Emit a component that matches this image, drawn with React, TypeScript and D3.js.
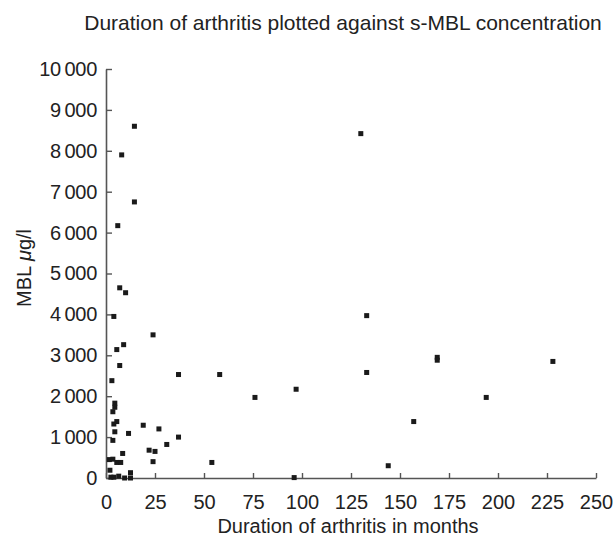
import React, { useRef, useEffect } from 'react';
import * as d3 from 'd3';

const width = 614;
const height = 540;
const margin = { left: 106, right: 18, top: 69, bottom: 62 };

// months, MBL µg/l
const durations = [
  130, 133, 169, 169, 228, 133, 194, 157, 144,
  24, 37, 58, 97, 76, 27, 37, 31, 25, 22, 24, 54, 96,
  14.5, 8, 14.5, 6,
  7, 10, 4, 9, 5.5, 7, 3,
  4.5, 4.5, 3.5, 5.5, 4, 4.5, 11.5, 19, 3.5, 8.5,
  1.7, 3.5, 5.5, 7.5, 2, 2.5, 4, 6.5, 9.5, 12.5, 12.5,
];
const mbl = [
  8420, 3970, 2950, 2880, 2850, 2580, 1970, 1380, 300,
  3500, 2530, 2530, 2170, 1970, 1200, 1000, 820, 650, 680, 400, 380, 10,
  8600, 7900, 6750, 6170,
  4650, 4530, 3950, 3260, 3140, 2750, 2380,
  1830, 1730, 1620, 1380, 1320, 1130, 1090, 1290, 920, 600,
  450, 460, 380, 380, 190, 20, 20, 45, 0, 130, 0,
];

const xTicks = [0, 25, 50, 75, 100, 125, 150, 175, 200, 225, 250];
const yTicks = [0, 1000, 2000, 3000, 4000, 5000, 6000, 7000, 8000, 9000, 10000];

const title = 'Duration of arthritis plotted against s-MBL concentration';
const xTitle = 'Duration of arthritis in months';

const fontFamily = 'Liberation Sans, Arial, Helvetica, sans-serif';

const App = () => {
  const ref = useRef<SVGSVGElement>(null);

  useEffect(() => {
    const svg = d3.select(ref.current);
    svg.selectAll('*').remove();

    const x = d3.scaleLinear().domain([0, 250]).range([margin.left, width - margin.right]);
    const y = d3.scaleLinear().domain([0, 10000]).range([height - margin.bottom, margin.top]);

    const fmt = (v: number) => d3.format(',')(v).replace(',', '\u2009');

    // x axis
    const xAxis = svg.append('g')
      .attr('transform', `translate(0, ${y(0)})`)
      .call(d3.axisBottom(x).tickValues(xTicks).tickSizeInner(-5).tickSizeOuter(0).tickPadding(17));
    xAxis.select('.domain').attr('stroke', '#555').attr('stroke-width', 1.6);
    xAxis.selectAll('.tick line').attr('stroke', '#555').attr('stroke-width', 1.4);
    xAxis.selectAll('.tick text')
      .attr('fill', '#222').style('font-size', '20px').style('font-family', fontFamily);

    // y axis
    const yAxis = svg.append('g')
      .attr('transform', `translate(${x(0)}, 0)`)
      .call(d3.axisLeft(y).tickValues(yTicks).tickFormat(d => fmt(d as number)).tickSizeInner(-6).tickSizeOuter(0).tickPadding(9));
    yAxis.select('.domain').attr('stroke', '#555').attr('stroke-width', 1.6);
    yAxis.selectAll('.tick line').attr('stroke', '#555').attr('stroke-width', 1.4);
    yAxis.selectAll('.tick text')
      .attr('fill', '#222').style('font-size', '20px').style('font-family', fontFamily)
      .style('letter-spacing', '-0.3px');

    // points
    const pts = durations.map((d, i) => ({ d, v: mbl[i] }));
    const s = 5;
    svg.append('g')
      .selectAll('rect')
      .data(pts)
      .join('rect')
      .attr('x', p => x(p.d) - s / 2)
      .attr('y', p => y(p.v) - s / 2)
      .attr('width', s)
      .attr('height', s)
      .attr('fill', '#1a1a1a');

    // titles
    svg.append('text')
      .attr('x', 343)
      .attr('y', 30)
      .attr('text-anchor', 'middle')
      .attr('fill', '#222')
      .style('font-size', '21px')
      .style('font-family', fontFamily)
      .text(title);

    svg.append('text')
      .attr('x', 348)
      .attr('y', 533)
      .attr('text-anchor', 'middle')
      .attr('fill', '#222')
      .style('font-size', '20px')
      .style('font-family', fontFamily)
      .text(xTitle);

    const yt = svg.append('text')
      .attr('transform', `translate(31, 268) rotate(-90)`)
      .attr('text-anchor', 'middle')
      .attr('fill', '#222')
      .style('font-size', '20px')
      .style('font-family', fontFamily);
    yt.append('tspan').text('MBL ');
    yt.append('tspan').style('font-style', 'italic').text('\u03bc');
    yt.append('tspan').text('g/l');
  }, []);

  return (
    <svg
      ref={ref}
      width={width}
      height={height}
      style={{ position: 'absolute', left: 0, top: 0, background: '#fff' }}
    />
  );
};

export default App;
